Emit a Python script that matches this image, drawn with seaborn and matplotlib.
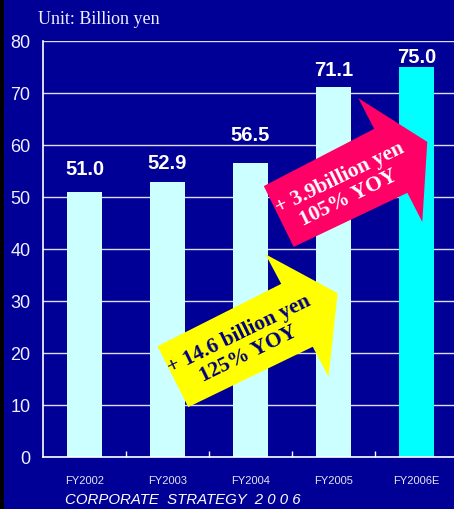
import matplotlib
matplotlib.use("Agg")
import matplotlib.pyplot as plt
from matplotlib.patches import Polygon, Rectangle
import seaborn as sns
import pandas as pd

# Sales by fiscal year (billion yen)
years = ["FY2002", "FY2003", "FY2004", "FY2005", "FY2006E"]
sales = [51.0, 52.9, 56.5, 71.1, 75.0]
y_ticks = [0, 10, 20, 30, 40, 50, 60, 70, 80]

yoy_2005 = ["+ 14.6 billion yen", "125% YOY"]
yoy_2006 = ["+ 3.9billion yen", "105% YOY"]

BG = "#000096"
bar_colors = ["#CCFFFF", "#CCFFFF", "#CCFFFF", "#CCFFFF", "#00FFFF"]
label_lift = [3.2, 2.5, 4.3, 2.2, 0.8]  # baseline of each value label above its bar

sns.set_theme(style="white")
plt.rcParams["font.family"] = ["Liberation Sans", "DejaVu Sans"]

fig = plt.figure(figsize=(4.54, 5.09), dpi=100, facecolor=BG)
W, H = 454, 509
ax = fig.add_axes([43 / W, 52 / H, (W - 43) / W, (457 - 41) / H])
ax.set_facecolor(BG)

df = pd.DataFrame({"year": years, "sales": sales})
sns.barplot(data=df, x="year", y="sales", hue="year", palette=bar_colors,
            legend=False, width=0.41, saturation=1, ax=ax, zorder=3,
            edgecolor="none")

ax.set_ylim(0, 80)
ax.set_xlim(-0.5, -0.5 + (W - 43) / 83)
ax.set_yticks(y_ticks)
ax.set_ylabel("")
ax.set_xlabel("")

ax.yaxis.grid(True, color="#DCDCF4", linewidth=1.0, zorder=1)
ax.xaxis.grid(False)
for side in ["top", "right"]:
    ax.spines[side].set_visible(False)
for side in ["left", "bottom"]:
    ax.spines[side].set_visible(True)
    ax.spines[side].set_color("white")
    ax.spines[side].set_linewidth(1.2)
    ax.spines[side].set_zorder(4)

ax.tick_params(axis="y", length=0, pad=9, labelsize=13, labelcolor="#F0F0FF")
ax.tick_params(axis="x", length=0, pad=14, labelsize=8, labelcolor="#E6E6F4")

# small ticks at category boundaries on the baseline
ax.set_xticks([i + 0.5 for i in range(len(years) - 1)], minor=True)
ax.tick_params(axis="x", which="minor", direction="in", length=4,
               width=1, color="white", bottom=True)

# value labels above each bar
for i, (v, lift) in enumerate(zip(sales, label_lift)):
    ax.text(i, v + lift, f"{v:.1f}", ha="center", va="baseline",
            fontsize=14.5, fontweight="bold", color="white", zorder=6)

# growth arrows
yellow_arrow = [(0.88, 21.3), (2.37, 33.3), (2.18, 39.0), (3.05, 31.5),
                (2.94, 15.4), (2.75, 21.2), (1.25, 9.6)]
pink_arrow = [(2.16, 52.1), (3.49, 63.1), (3.30, 69.0), (4.13, 60.6),
              (4.07, 45.2), (3.89, 50.8), (2.52, 40.4)]
ax.add_patch(Polygon(yellow_arrow, closed=True, facecolor="#FFFF00",
                     edgecolor="none", zorder=5))
ax.add_patch(Polygon(pink_arrow, closed=True, facecolor="#FF0066",
                     edgecolor="none", zorder=5))

ax.text(1.92, 21.7, "\n".join(yoy_2005), rotation=26, rotation_mode="anchor",
        ha="center", va="center", multialignment="center",
        fontsize=15.5, fontweight="bold", color="#000080",
        family=["Liberation Serif"], linespacing=1.1, zorder=6)
ax.text(3.13, 51.7, "\n".join(yoy_2006), rotation=26, rotation_mode="anchor",
        ha="center", va="center", multialignment="center",
        fontsize=15.5, fontweight="bold", color="white",
        family=["Liberation Serif"], linespacing=1.1, zorder=6)

# header and footer
fig.text(38 / W, 1 - 20 / H, "Unit: Billion yen", ha="left", va="center",
         fontsize=13, color="#F0F0FF", family=["Liberation Serif"])
fig.text(65 / W, 1 - 500 / H, "CORPORATE  STRATEGY  2 0 0 6", ha="left",
         va="center", fontsize=10.8, style="italic", color="white")

# dark strip along the left edge
fig.patches.append(Rectangle((0, 0), 4 / W, 1, transform=fig.transFigure,
                             facecolor="black", edgecolor="none", zorder=10))

fig.savefig("out.png", dpi=100, facecolor=BG)
